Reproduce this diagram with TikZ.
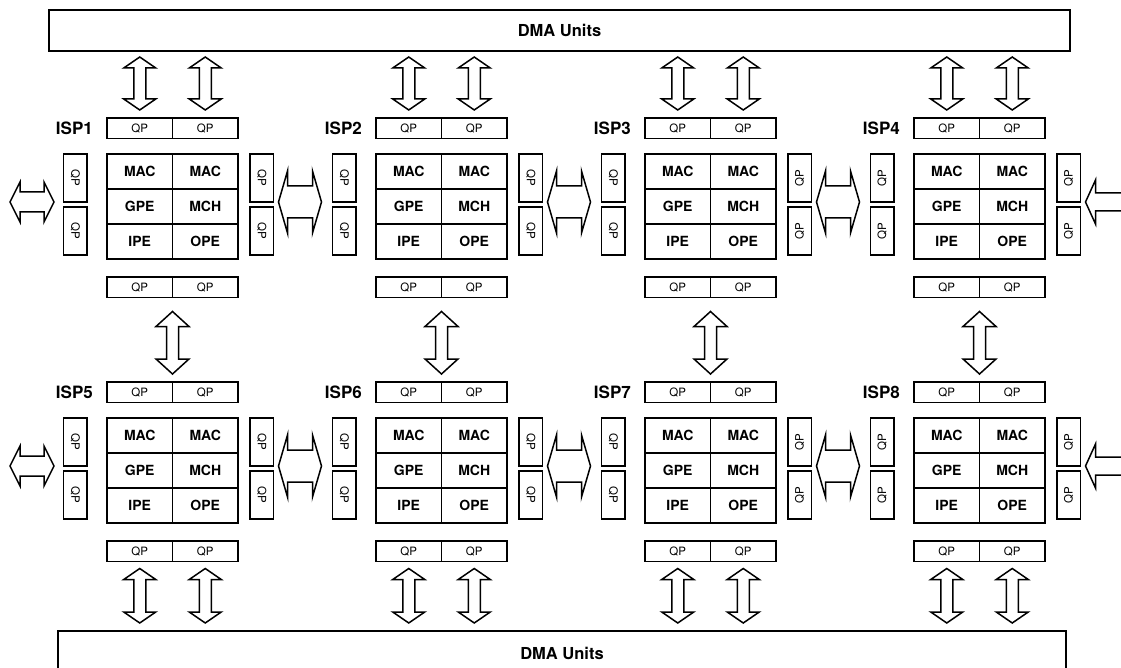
\documentclass[tikz,border=0pt]{standalone}
\usepackage{fontspec}
\setmainfont{TeX Gyre Heros}
\usetikzlibrary{calc}
\usetikzlibrary{positioning}
\tikzset{
    unit/.style={draw, line width=1.8pt, outer sep=0pt, minimum width=65.5pt, minimum height=35pt, inner sep=0pt, font=\fontsize{14}{16}\selectfont\bfseries},
    qpbar/.style={draw, line width=1.8pt, outer sep=0pt, minimum width=65.5pt, minimum height=20.5pt, inner sep=0pt, font=\fontsize{11.5}{13}\selectfont},
    qpside/.style={draw, line width=1.8pt, outer sep=0pt, minimum width=23.5pt, minimum height=48pt, inner sep=0pt, font=\fontsize{11.5}{13}\selectfont},
    isplabel/.style={anchor=east, inner sep=0pt, font=\fontsize{17}{20}\selectfont\bfseries},
    dmabox/.style={draw, line width=1.8pt, outer sep=0pt, inner sep=0pt, font=\fontsize{16.5}{19}\selectfont\bfseries},
    blockarrow/.style={draw, line width=1.5pt, fill=white, line join=miter},
}

% double block arrow: from, to, shaft half width, head half width, head length
\newcommand{\dblarrow}[5]{%
    \coordinate (ha) at ($(#1)!#5!(#2)$);
    \coordinate (hb) at ($(#2)!#5!(#1)$);
    \draw[blockarrow] (#1) -- ($(ha)!#4!90:(#2)$) -- ($(ha)!#3!90:(#2)$)
        -- ($(hb)!#3!-90:(#1)$) -- ($(hb)!#4!-90:(#1)$) -- (#2)
        -- ($(hb)!#4!90:(#1)$) -- ($(hb)!#3!90:(#1)$)
        -- ($(ha)!#3!-90:(#2)$) -- ($(ha)!#4!-90:(#2)$) -- cycle;
}

\begin{document}
\begin{tikzpicture}[x=1pt, y=-1pt]

    \useasboundingbox (0,0) rectangle (1121,668);
    \fill[white] (0,0) rectangle (1121,668);
    \clip (0,0) rectangle (1121,668);

    \node[dmabox, minimum width=1021pt, minimum height=41pt] (dmaTop) at (559.5,30.5) {DMA Units};
    \node[dmabox, minimum width=1008pt, minimum height=44pt] (dmaBot) at (562,653) {DMA Units};

    % one processor: grid, QP bars, side QPs, label
    \foreach \n/\gx/\gy/\rl/\rr in {1/107/154/-90/-90, 2/376/154/-90/-90, 3/645/154/-90/90, 4/914/154/90/90,
                                    5/107/418/-90/-90, 6/376/418/-90/-90, 7/645/418/-90/90, 8/914/418/90/90} {
        \node[unit, anchor=north west] (mac\n) at (\gx,\gy) {MAC};
        \node[unit, right=0pt of mac\n] (macb\n) {MAC};
        \node[unit, below=0pt of mac\n] (gpe\n) {GPE};
        \node[unit, right=0pt of gpe\n] (mch\n) {MCH};
        \node[unit, below=0pt of gpe\n] (ipe\n) {IPE};
        \node[unit, right=0pt of ipe\n] (ope\n) {OPE};

        \node[qpbar, above=15.5pt of mac\n] (qta\n) {QP};
        \node[qpbar, right=0pt of qta\n] (qtb\n) {QP};
        \node[qpbar, below=18pt of ipe\n] (qba\n) {QP};
        \node[qpbar, right=0pt of qba\n] (qbb\n) {QP};

        \node[qpside, anchor=north east] (qla\n) at ($(mac\n.north west)+(-20,0)$) {\rotatebox{\rl}{QP}};
        \node[qpside, below=5pt of qla\n] (qlb\n) {\rotatebox{\rl}{QP}};
        \node[qpside, anchor=north west] (qra\n) at ($(macb\n.north east)+(12,0)$) {\rotatebox{\rr}{QP}};
        \node[qpside, below=5pt of qra\n] (qrb\n) {\rotatebox{\rr}{QP}};

        \node[isplabel] (lbl\n) at ($(qta\n.west)+(-14,0)$) {ISP\n};
    }

    % DMA to first row
    \foreach \n in {1,2,3,4} {
        \foreach \q in {qta,qtb} {
            \coordinate (\q\n-up) at ($(\q\n.north |- dmaTop.south)+(0,6)$);
            \coordinate (\q\n-dn) at ($(\q\n.north)+(0,-8)$);
            \dblarrow{\q\n-up}{\q\n-dn}{6pt}{16pt}{11pt}
        }
    }

    % first row to second row
    \foreach \a/\b in {1/5,2/6,3/7,4/8} {
        \coordinate (link\a-up) at ($(qba\a.south east)+(0,14)$);
        \coordinate (link\a-dn) at ($(qta\b.north east)+(0,-8)$);
        \dblarrow{link\a-up}{link\a-dn}{6pt}{16.5pt}{15pt}
    }

    % neighbours in a row
    \foreach \a/\b in {1/2,2/3,3/4,5/6,6/7,7/8} {
        \coordinate (side\a-l) at ($(qra\a.south east)+(5,0)$);
        \coordinate (side\a-r) at ($(qla\b.south west)+(-11,0)$);
        \dblarrow{side\a-l}{side\a-r}{16pt}{31pt}{9pt}
    }

    \foreach \n in {1,5} {
        \coordinate (edge\n-l) at ($(qla\n.south west)+(-53.5,0)$);
        \coordinate (edge\n-r) at ($(qla\n.south west)+(-9.5,0)$);
        \dblarrow{edge\n-l}{edge\n-r}{10pt}{20pt}{10pt}
    }
    \foreach \n in {4,8} {
        \coordinate (edge\n-l) at ($(qra\n.south east)+(5,0)$);
        \coordinate (edge\n-r) at ($(qra\n.south east)+(70,0)$);
        \dblarrow{edge\n-l}{edge\n-r}{9pt}{22pt}{10pt}
    }

    % second row to DMA
    \foreach \n in {5,6,7,8} {
        \foreach \q in {qba,qbb} {
            \coordinate (\q\n-up) at ($(\q\n.south)+(0,7)$);
            \coordinate (\q\n-dn) at ($(\q\n.south |- dmaBot.north)+(0,-8)$);
            \dblarrow{\q\n-up}{\q\n-dn}{6pt}{16pt}{11pt}
        }
    }

\end{tikzpicture}
\end{document}
